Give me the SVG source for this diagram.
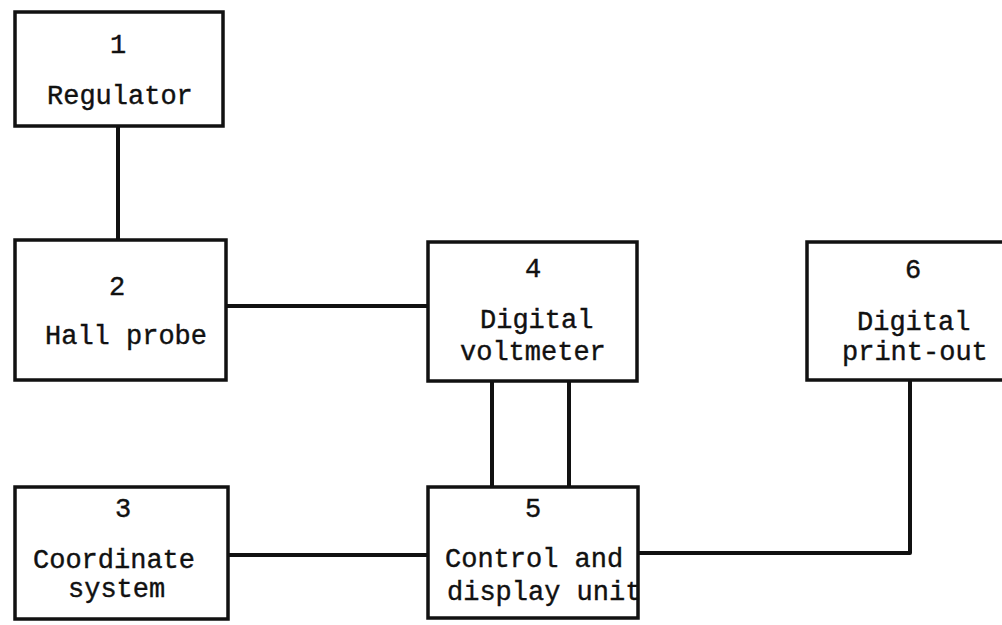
<svg xmlns="http://www.w3.org/2000/svg" width="1002" height="625" viewBox="0 0 1002 625">
<style>
.box{fill:#fff;stroke:#111;stroke-width:3.5}
.ln{fill:none;stroke:#111;stroke-width:4;stroke-linejoin:round}
text{font-family:"Liberation Mono","Courier New",monospace;font-size:27px;fill:#111;stroke:#111;stroke-width:0.4}
.c{text-anchor:middle}
</style>
<rect width="1002" height="625" fill="#fff"/>
<g id="connectors">
<line class="ln" x1="118" y1="126" x2="118" y2="240"/>
<line class="ln" x1="226" y1="306" x2="428" y2="306"/>
<line class="ln" x1="492" y1="381" x2="492" y2="487"/>
<line class="ln" x1="569" y1="381" x2="569" y2="487"/>
<line class="ln" x1="228" y1="555" x2="428" y2="555"/>
<polyline class="ln" points="638,553 910,553 910,380"/>
</g>
<g id="node1">
<rect class="box" x="15" y="12" width="208" height="114"/>
<text class="c" x="118" y="53">1</text>
<text x="47" y="104">Regulator</text>
</g>
<g id="node2">
<rect class="box" x="15" y="240" width="211" height="140"/>
<text class="c" x="117" y="295">2</text>
<text x="45" y="344">Hall probe</text>
</g>
<g id="node3">
<rect class="box" x="15" y="487" width="213" height="132"/>
<text class="c" x="123" y="517">3</text>
<text x="33" y="568">Coordinate</text>
<text x="68" y="597">system</text>
</g>
<g id="node4">
<rect class="box" x="428" y="242" width="209" height="139"/>
<text class="c" x="533" y="277">4</text>
<text x="480" y="328">Digital</text>
<text x="460" y="360">voltmeter</text>
</g>
<g id="node5">
<rect class="box" x="428" y="487" width="210" height="131"/>
<text class="c" x="533" y="517">5</text>
<text x="445" y="567">Control and</text>
<text x="447" y="600">display unit</text>
</g>
<g id="node6">
<rect class="box" x="807" y="242" width="200" height="138"/>
<text class="c" x="913" y="278">6</text>
<text x="857" y="330">Digital</text>
<text x="842" y="360">print-out</text>
</g>
</svg>
